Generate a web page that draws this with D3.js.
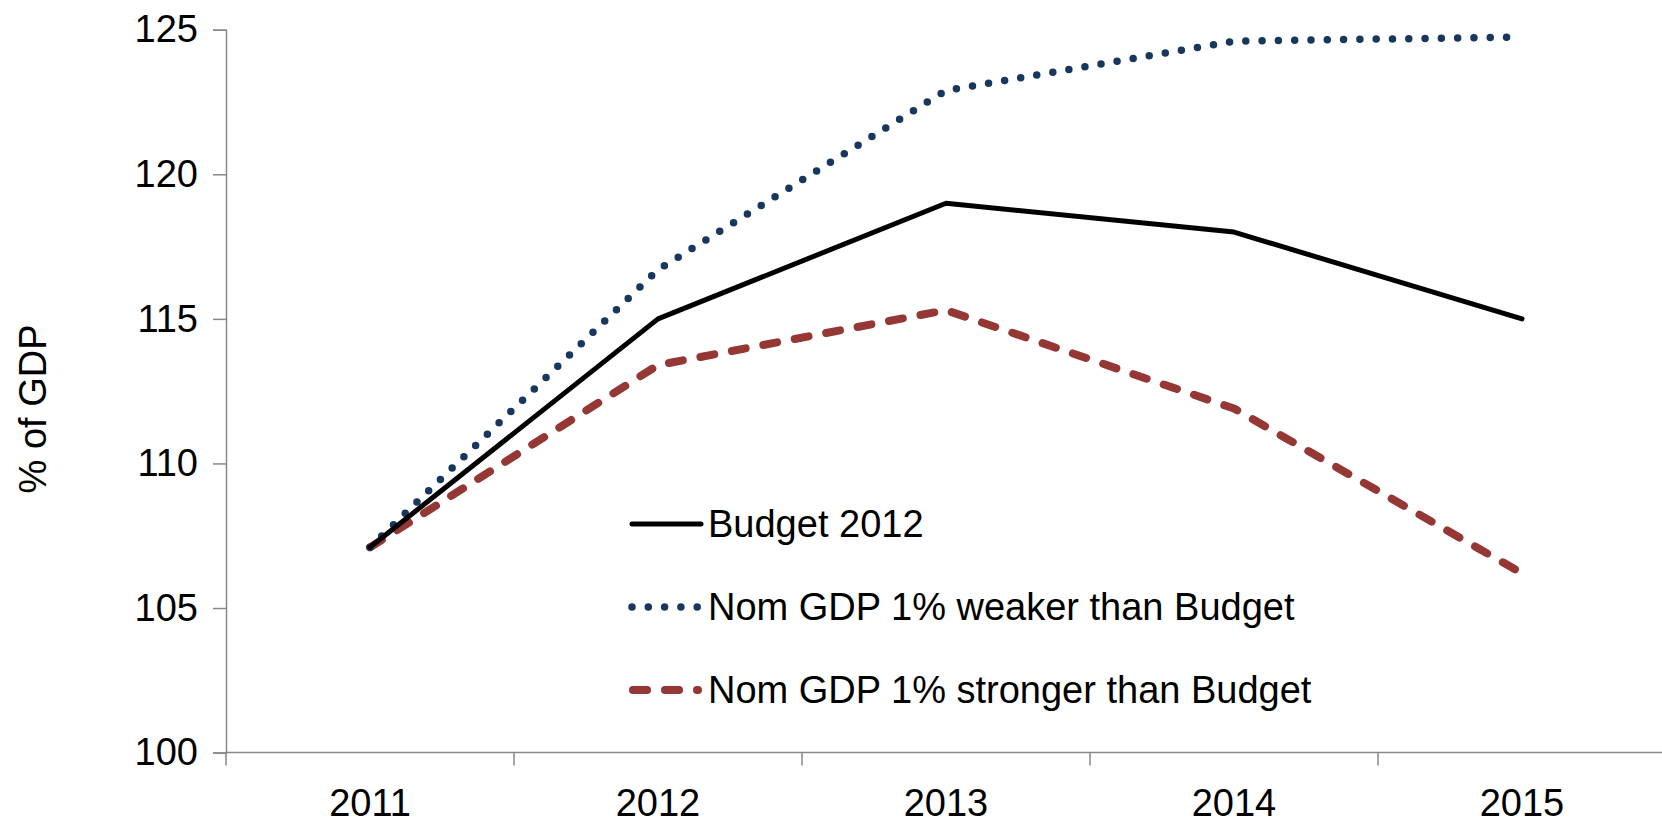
<!DOCTYPE html>
<html>
<head>
<meta charset="utf-8">
<script src="https://cdn.jsdelivr.net/npm/d3@7"></script>
<style>
  html, body { margin: 0; padding: 0; background: #fff; overflow: hidden; }
  svg { display: block; }
  text { font-family: "Liberation Sans", Arial, sans-serif; fill: #000; }
</style>
</head>
<body>
<svg id="chart" width="1662" height="825"></svg>
<script>
// Public debt projections, % of GDP
const years = ["2011", "2012", "2013", "2014", "2015"];
const budget2012 = [107.1, 115.0, 119.0, 118.0, 115.0];
const weakerGdp = [107.1, 116.7, 122.9, 124.6, 124.75];
const strongerGdp = [107.1, 113.4, 115.3, 111.9, 106.2];
const yTicks = [100, 105, 110, 115, 120, 125];
const seriesNames = [
  "Budget 2012",
  "Nom GDP 1% weaker than Budget",
  "Nom GDP 1% stronger than Budget"
];

const series = [
  { name: seriesNames[0], values: budget2012, color: "#000000", width: 5, dash: null, cap: "round" },
  { name: seriesNames[1], values: weakerGdp, color: "#17375E", width: 7.5, dash: "0 16.3", cap: "round" },
  { name: seriesNames[2], values: strongerGdp, color: "#953735", width: 8, dash: "14 18", cap: "round" }
];

const svg = d3.select("#chart");
const plotLeft = 226, plotRight = 1666, plotTop = 29.7, plotBottom = 752.6;
const fontSize = 38;
const axisColor = "#898989";

const x = d3.scaleBand().domain(years).range([plotLeft, plotRight]).padding(0);
const y = d3.scaleLinear().domain([100, 125]).range([plotBottom, plotTop]);

// Y axis
const yAxis = svg.append("g")
  .attr("transform", `translate(${plotLeft},0)`)
  .call(d3.axisLeft(y).tickValues(yTicks).tickSize(13).tickPadding(15).tickFormat(d3.format("d")));
yAxis.select(".domain").attr("stroke", axisColor).attr("stroke-width", 1.5);
yAxis.selectAll(".tick line").attr("stroke", axisColor).attr("stroke-width", 1.5);
yAxis.selectAll(".tick text").attr("font-size", fontSize).attr("font-family", "Liberation Sans, Arial, sans-serif").attr("fill", "#000");

// X axis: category boundaries carry the tick marks
const xAxisG = svg.append("g").attr("transform", `translate(0,${plotBottom})`);
xAxisG.append("line")
  .attr("x1", plotLeft).attr("x2", plotRight).attr("y1", 0).attr("y2", 0)
  .attr("stroke", axisColor).attr("stroke-width", 1.5);
const boundaries = years.map(d => x(d)).concat([x(years[years.length - 1]) + x.bandwidth()]);
xAxisG.selectAll("line.tick")
  .data(boundaries)
  .join("line")
  .attr("class", "tick")
  .attr("x1", d => d).attr("x2", d => d)
  .attr("y1", 0).attr("y2", 13)
  .attr("stroke", axisColor).attr("stroke-width", 1.5);
xAxisG.selectAll("text")
  .data(years)
  .join("text")
  .attr("x", d => x(d) + x.bandwidth() / 2)
  .attr("y", 63.5)
  .attr("text-anchor", "middle")
  .attr("font-size", fontSize)
  .text(d => d);

// Y axis title
svg.append("text")
  .attr("transform", `translate(46,409) rotate(-90)`)
  .attr("text-anchor", "middle")
  .attr("font-size", fontSize)
  .text("% of GDP");

// Lines
const line = d3.line()
  .x((d, i) => x(years[i]) + x.bandwidth() / 2)
  .y(d => y(d));

// draw order: stronger (back), weaker, budget on top
[series[2], series[1], series[0]].forEach(s => {
  svg.append("path")
    .datum(s.values)
    .attr("d", line)
    .attr("fill", "none")
    .attr("stroke", s.color)
    .attr("stroke-width", s.width)
    .attr("stroke-linecap", s.cap)
    .attr("stroke-linejoin", "round")
    .attr("stroke-dasharray", s.dash);
});

// Legend
const legend = svg.append("g");
const legendRows = [524, 607, 690];
const legendLine = [
  { x1: 632, x2: 701 },
  { x1: 632, x2: 698.5 },
  { x1: 633, x2: 698 }
];
series.forEach((s, i) => {
  const g = legend.append("g");
  g.append("line")
    .attr("x1", legendLine[i].x1).attr("x2", legendLine[i].x2)
    .attr("y1", legendRows[i]).attr("y2", legendRows[i])
    .attr("stroke", s.color)
    .attr("stroke-width", s.width)
    .attr("stroke-linecap", s.cap)
    .attr("stroke-dasharray", s.dash);
  g.append("text")
    .attr("x", 708)
    .attr("y", legendRows[i])
    .attr("dy", "0.35em")
    .attr("font-size", fontSize)
    .text(s.name);
});
</script>
</body>
</html>
